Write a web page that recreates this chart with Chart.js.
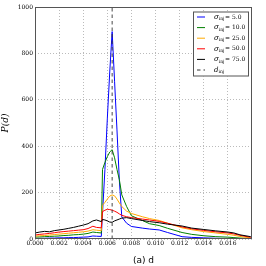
<!DOCTYPE html>
<html>
<head>
<meta charset="utf-8">
<script src="https://cdn.jsdelivr.net/npm/chart.js@4"></script>
<style>
  html, body { margin: 0; padding: 0; background: #fff; }
  #wrap { width: 266px; height: 266px; }
</style>
</head>
<body>
<div id="wrap"><canvas id="pdChart" width="266" height="266"></canvas></div>
<script>
// distance values (x axis)
const dValues = [0, 0.0004, 0.0008, 0.0012, 0.0016, 0.002, 0.0024, 0.0028, 0.0032, 0.0036, 0.004, 0.0044, 0.0048, 0.0051, 0.0055,
    0.0056, 0.0058, 0.006, 0.0062, 0.0064, 0.0066, 0.0068, 0.007, 0.0072, 0.0076, 0.008, 0.0089, 0.0095, 0.0103, 0.011,
    0.0122, 0.013, 0.014, 0.015, 0.016, 0.0165, 0.017, 0.0179];

const sigma5 = [2, 3, 3, 4, 4, 5, 5, 6, 6, 7, 8, 9, 13, 12, 11,
    110, 300, 520, 720, 894, 680, 470, 250, 95, 68, 54, 47, 43, 39, 28,
    10, 7, 5, 3, 2, 1, 1, 0];
const sigma10 = [8, 9, 10, 11, 12, 13, 15, 16, 18, 19, 21, 24, 30, 28, 26,
    300, 330, 355, 375, 385, 350, 300, 255, 190, 140, 100, 80, 66, 58, 46,
    28, 20, 14, 10, 8, 6, 4, 2];
const sigma25 = [12, 14, 15, 17, 19, 21, 23, 25, 27, 29, 31, 34, 40, 38, 36,
    145, 158, 172, 185, 190, 186, 172, 155, 140, 120, 110, 96, 88, 80, 68,
    48, 40, 32, 26, 20, 16, 11, 4];
const sigma50 = [17, 20, 22, 24, 27, 30, 32, 34, 36, 38, 40, 45, 55, 50, 48,
    118, 124, 128, 127, 124, 120, 115, 108, 102, 96, 92, 86, 82, 76, 68,
    52, 44, 37, 31, 26, 22, 16, 7];
const sigma75 = [26, 30, 33, 31, 36, 39, 42, 46, 50, 55, 60, 66, 78, 82, 75,
    84, 82, 78, 73, 72, 78, 82, 86, 90, 92, 88, 80, 75, 70, 64,
    56, 47, 41, 35, 30, 26, 18, 10];

const sigmaLabels = ["5.0", "10.0", "25.0", "50.0", "75.0"];
const seriesColors = ["#0000ff", "#008000", "#ffaa00", "#ff0000", "#000000"];
const dInj = 0.0064;

const xTickValues = [0, 0.002, 0.004, 0.006, 0.008, 0.010, 0.012, 0.014, 0.016];
const yTickValues = [0, 200, 400, 600, 800, 1000];

const allSeries = [sigma5, sigma10, sigma25, sigma50, sigma75];

const datasets = allSeries.map((vals, k) => ({
    label: "σinj = " + sigmaLabels[k],
    data: dValues.map((d, i) => ({ x: d, y: vals[i] })),
    borderColor: seriesColors[k],
    borderWidth: 1,
    pointRadius: 0,
    fill: false,
    tension: 0,
    order: 10 - k,
}));

datasets.push({
    label: "dinj",
    data: [{ x: dInj, y: 0 }, { x: dInj, y: 1000 }],
    borderColor: "#333",
    borderWidth: 0.9,
    borderDash: [3.5, 3],
    pointRadius: 0,
    order: 0,
});

// frame + inset legend drawn over the plot
const framePlugin = {
    id: "frameLegend",
    afterDatasetsDraw(chart) {
        const { ctx, chartArea: a } = chart;
        ctx.save();
        ctx.strokeStyle = "#555";
        ctx.lineWidth = 1;
        ctx.strokeRect(a.left + 0.5, a.top + 0.5, a.right - a.left - 1, a.bottom - a.top - 1);

        const bx = a.right - 59, by = a.top + 4.5, bw = 56, bh = 65;
        ctx.fillStyle = "#fff";
        ctx.fillRect(bx, by, bw, bh);
        ctx.strokeStyle = "#555";
        ctx.strokeRect(bx + 0.5, by + 0.5, bw - 1, bh - 1);

        const rowH = 10.6;
        chart.data.datasets.forEach((ds, i) => {
            const cy = by + 5.5 + i * rowH;
            ctx.beginPath();
            ctx.strokeStyle = ds.borderColor;
            ctx.lineWidth = 1;
            ctx.setLineDash(ds.borderDash || []);
            ctx.moveTo(bx + 4, cy);
            ctx.lineTo(bx + 12, cy);
            ctx.stroke();
            ctx.setLineDash([]);

            ctx.fillStyle = "#000";
            ctx.textBaseline = "middle";
            let tx = bx + 21;
            if (i < allSeries.length) {
                ctx.font = "italic 7px 'DejaVu Serif'";
                ctx.fillText("σ", tx, cy);
                tx += ctx.measureText("σ").width;
                ctx.font = "4.5px 'DejaVu Serif'";
                ctx.fillText("inj", tx, cy + 2);
                tx += ctx.measureText("inj").width + 0.5;
                ctx.font = "6px 'DejaVu Serif'";
                ctx.fillText("= " + sigmaLabels[i], tx, cy);
            } else {
                ctx.font = "italic 7px 'DejaVu Serif'";
                ctx.fillText("d", tx, cy);
                tx += ctx.measureText("d").width;
                ctx.font = "4.5px 'DejaVu Serif'";
                ctx.fillText("inj", tx, cy + 2);
            }
        });
        ctx.restore();
    }
};

const ctx = document.getElementById("pdChart").getContext("2d");
new Chart(ctx, {
    type: "line",
    data: { datasets: datasets },
    options: {
        responsive: false,
        animation: false,
        layout: { padding: { top: 7, right: 14, left: 0, bottom: 0 } },
        plugins: { legend: { display: false }, tooltip: { enabled: false } },
        scales: {
            x: {
                type: "linear",
                min: 0,
                max: 0.018,
                afterBuildTicks: (scale) => { scale.ticks = xTickValues.map(v => ({ value: v })); },
                afterFit: (scale) => { scale.height = 27; },
                ticks: {
                    maxRotation: 0,
                    padding: 1,
                    color: "#000",
                    font: { family: "'DejaVu Serif'", size: 6 },
                    callback: (v) => Number(v).toFixed(3),
                },
                grid: { color: "#aaa", lineWidth: 0.8, tickLength: 0 },
                border: { display: false, dash: [1, 2] },
                title: {
                    display: true,
                    text: "(a) d",
                    color: "#000",
                    padding: { top: 1, bottom: 0 },
                    font: { family: "'DejaVu Sans'", size: 9 },
                },
            },
            y: {
                min: 0,
                max: 1000,
                afterBuildTicks: (scale) => { scale.ticks = yTickValues.map(v => ({ value: v })); },
                afterFit: (scale) => { scale.width = 35; },
                ticks: {
                    padding: 2,
                    color: "#000",
                    font: { family: "'DejaVu Serif'", size: 6 },
                    callback: (v) => String(v),
                },
                grid: { color: "#aaa", lineWidth: 0.8, tickLength: 0 },
                border: { display: false, dash: [1, 2] },
                title: {
                    display: true,
                    text: "P(d)",
                    color: "#000",
                    padding: { top: 0, bottom: 4 },
                    font: { family: "'DejaVu Serif'", size: 9, style: "italic" },
                },
            },
        },
    },
    plugins: [framePlugin],
});
</script>
</body>
</html>
